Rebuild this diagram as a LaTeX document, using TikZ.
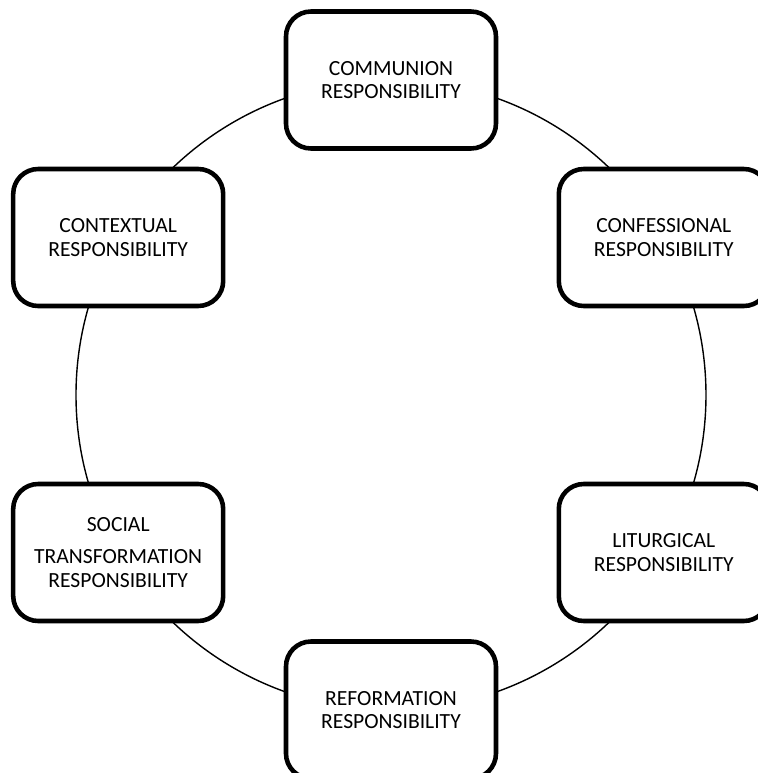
\documentclass[tikz,border=0pt]{standalone}
\usepackage{fontspec}
\setmainfont{Carlito}
\tikzset{
    resp/.style={draw, fill=white, line width=2.6pt, rounded corners=0.5cm,
        minimum width=4.2cm, minimum height=2.74cm, align=center,
        font=\fontsize{12.3}{13.5}\selectfont},
    ring/.style={line width=0.8pt}
}
\begin{document}
\begin{tikzpicture}
                \useasboundingbox (-7.82,-7.56) rectangle (7.32,7.9);
                \draw[ring] (0,0) circle (6.3);

                \node[resp] (comm) at (90:6.3)
                    {COMMUNION\\RESPONSIBILITY};
                \node[resp] (conf) at (30:6.3)
                    {CONFESSIONAL\\RESPONSIBILITY};
                \node[resp] (litu) at (-30:6.3)
                    {LITURGICAL\\RESPONSIBILITY};
                \node[resp] (refo) at (-90:6.3)
                    {REFORMATION\\RESPONSIBILITY};
                \node[resp] (soci) at (210:6.3)
                    {SOCIAL\\[0.18cm]TRANSFORMATION\\RESPONSIBILITY};
                \node[resp] (cont) at (150:6.3)
                    {CONTEXTUAL\\RESPONSIBILITY};
            \end{tikzpicture}
\end{document}
